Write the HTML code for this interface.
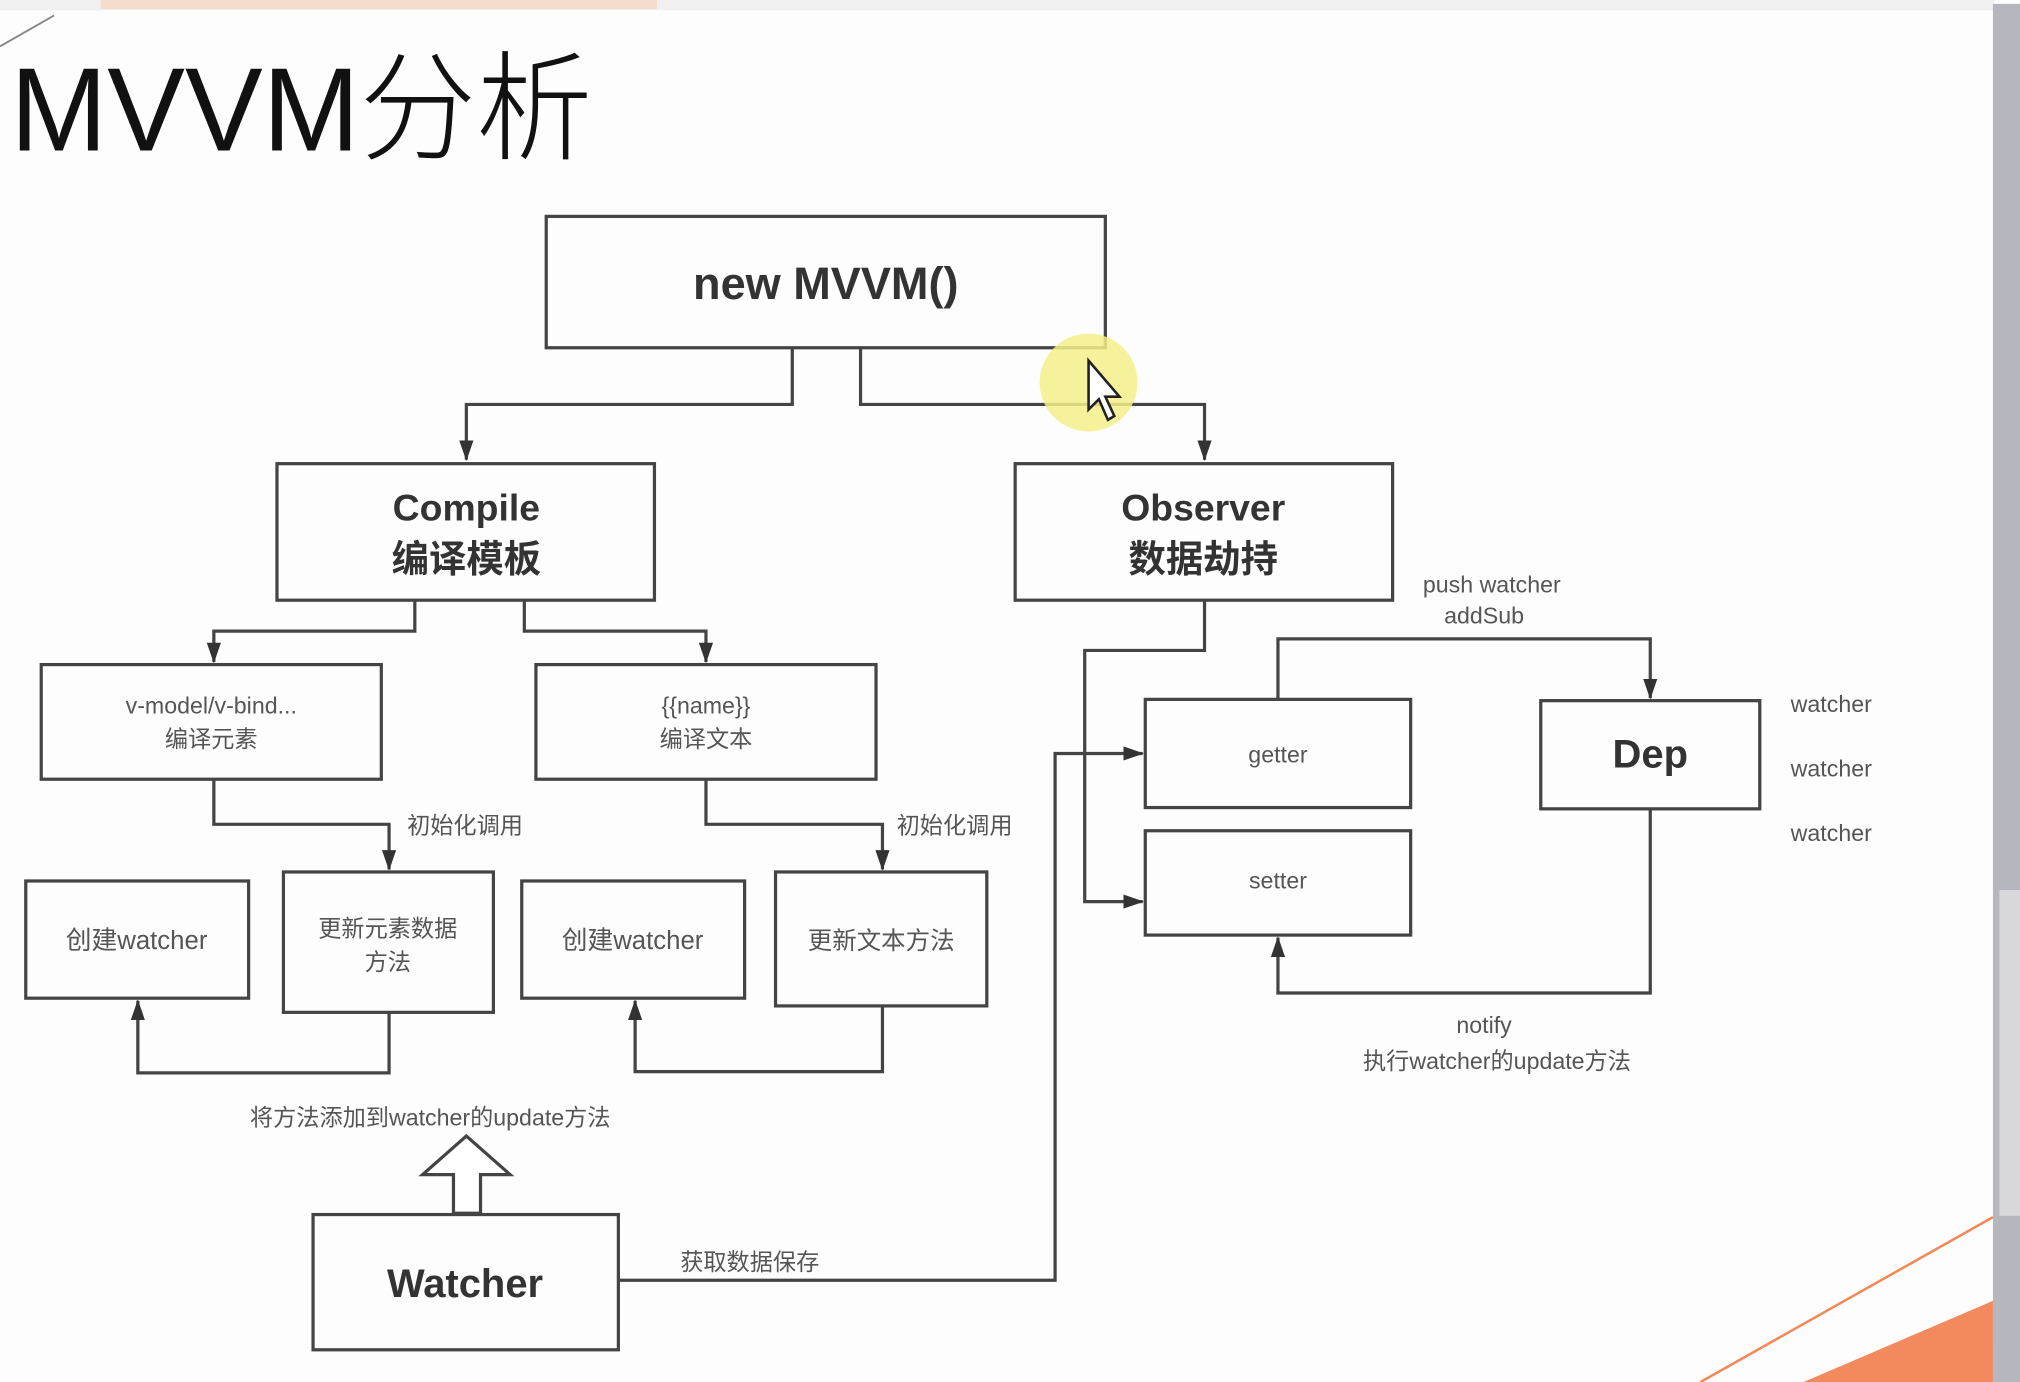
<!DOCTYPE html>
<html><head><meta charset="utf-8"><style>
html,body{margin:0;padding:0;background:#fff;}
svg{display:block;}
text{font-family:"Liberation Sans","Noto Sans CJK SC",sans-serif;}
</style></head><body>
<svg width="2020" height="1382" viewBox="0 0 1568 1073" preserveAspectRatio="none" xmlns="http://www.w3.org/2000/svg">
<defs>
<marker id="a" markerWidth="16" markerHeight="14" refX="15" refY="7" orient="auto" markerUnits="userSpaceOnUse">
<path d="M0,1.5 L16,7 L0,12.5 Z" fill="#333"/>
</marker>
</defs>
<rect x="0" y="0" width="1568" height="1073" fill="#fdfdfd"/>
<rect x="0" y="0" width="1548" height="8" fill="#f0f0f0"/>
<rect x="78" y="0" width="432" height="7" fill="#f6dccc"/>
<line x1="0" y1="36" x2="42" y2="12" stroke="#888" stroke-width="1.5"/>
<rect x="1547" y="3" width="21" height="1070" fill="#b6b6be"/>
<rect x="1552" y="691" width="16" height="253" fill="#d8d8dc"/>
<line x1="1320" y1="1073" x2="1547" y2="945" stroke="#f08a5a" stroke-width="2"/>
<polygon points="1400,1073 1547,1010 1547,1073" fill="#f28a5d"/>
<text x="8" y="117" font-size="92" fill="#111" textLength="452" lengthAdjust="spacingAndGlyphs" font-weight="300">MVVM分析</text>

<g fill="none" stroke="#444" stroke-width="2.5">
<rect x="424" y="168" width="434" height="102"/>
<rect x="215" y="360" width="293" height="106"/>
<rect x="788" y="360" width="293" height="106"/>
<rect x="32" y="516" width="264" height="89"/>
<rect x="416" y="516" width="264" height="89"/>
<rect x="20" y="684" width="173" height="91"/>
<rect x="220" y="677" width="163" height="109"/>
<rect x="405" y="684" width="173" height="91"/>
<rect x="602" y="677" width="164" height="104"/>
<rect x="889" y="543" width="206" height="84"/>
<rect x="889" y="645" width="206" height="81"/>
<rect x="1196" y="544" width="170" height="84"/>
<rect x="243" y="943" width="237" height="105"/>
</g>
<g fill="none" stroke="#444" stroke-width="2.5">
<polyline points="615,270 615,314 362,314 362,357" marker-end="url(#a)"/>
<polyline points="668,270 668,314 935,314 935,357" marker-end="url(#a)"/>
<polyline points="322,466 322,490 166,490 166,514" marker-end="url(#a)"/>
<polyline points="407,466 407,490 548,490 548,514" marker-end="url(#a)"/>
<polyline points="166,605 166,640 302,640 302,675" marker-end="url(#a)"/>
<polyline points="548,605 548,640 685,640 685,675" marker-end="url(#a)"/>
<polyline points="302,786 302,833 107,833 107,777" marker-end="url(#a)"/>
<polyline points="685,781 685,832 493,832 493,777" marker-end="url(#a)"/>
<polyline points="480,994 819,994 819,585 887,585" marker-end="url(#a)"/>
<polyline points="935,466 935,505 842,505 842,700 887,700" marker-end="url(#a)"/>
<polyline points="992,543 992,496 1281,496 1281,542" marker-end="url(#a)"/>
<polyline points="1281,628 1281,771 992,771 992,728" marker-end="url(#a)"/>
<polygon points="352,942 352,912 328,912 362,882 396,912 373,912 373,942" fill="#fff"/>
</g>
<circle cx="845" cy="297" r="38" fill="#f5f08a" opacity="0.85"/>
<path d="M845,280 L845,318 L853,310 L860,326 L865,323 L858,308 L869,308 Z" fill="#fff" stroke="#222" stroke-width="2"/>

<g fill="#333" font-weight="bold" text-anchor="middle">
<text x="641" y="232" font-size="35">new MVVM()</text>
<text x="362" y="404" font-size="29">Compile</text>
<text x="362" y="444" font-size="29">编译模板</text>
<text x="934" y="404" font-size="29">Observer</text>
<text x="934" y="444" font-size="29">数据劫持</text>
<text x="1281" y="596" font-size="31">Dep</text>
<text x="361" y="1007" font-size="31">Watcher</text>
</g>
<g fill="#555" font-size="18" text-anchor="middle">
<text x="164" y="554">v-model/v-bind...</text>
<text x="164" y="580">编译元素</text>
<text x="548" y="554">{{name}}</text>
<text x="548" y="580">编译文本</text>
<text x="106" y="737" font-size="20">创建watcher</text>
<text x="301" y="727">更新元素数据</text>
<text x="301" y="753">方法</text>
<text x="491" y="737" font-size="20">创建watcher</text>
<text x="684" y="737" font-size="19">更新文本方法</text>
<text x="992" y="592">getter</text>
<text x="992" y="690">setter</text>
<text x="1158" y="460">push watcher</text>
<text x="1152" y="484">addSub</text>
<text x="1152" y="802">notify</text>
<text x="1162" y="830">执行watcher的update方法</text>
</g>
<g fill="#555" font-size="18">
<text x="316" y="647">初始化调用</text>
<text x="696" y="647">初始化调用</text>
<text x="194" y="874">将方法添加到watcher的update方法</text>
<text x="528" y="986">获取数据保存</text>
<text x="1390" y="553">watcher</text>
<text x="1390" y="603">watcher</text>
<text x="1390" y="653">watcher</text>
</g>
</svg>
</body></html>
